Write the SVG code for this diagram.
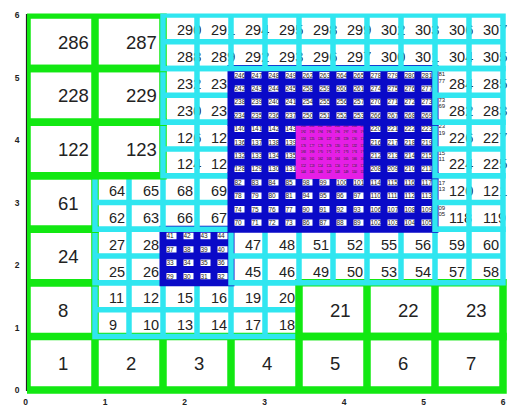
<svg xmlns="http://www.w3.org/2000/svg" width="515" height="408" viewBox="0 0 515 408">
<defs>
<clipPath id="plot"><rect x="27" y="13.5" width="480" height="381"/></clipPath>
</defs>
<style>
text{font-family:"Liberation Sans",Arial,sans-serif;fill:#222}
.L0{font-size:18.5px}
.L1{font-size:14.5px}
.L2{font-size:6.5px;fill:#000}
.L3{font-size:3px;fill:#000}
.ov{font-size:6px}
.tk{font-size:8.5px;font-weight:bold;text-anchor:middle}
.g,.c,.b,.m{fill:none;clip-path:url(#plot)}
.g{stroke:#12e812;stroke-width:7.5}
.c{stroke:#30e6f0;stroke-width:5.5}
.b{stroke:#0a0ac8;stroke-width:7}
.m{stroke:#e61ee6;stroke-width:6.5}
</style>
<rect width="515" height="408" fill="#fff"/>
<g id="axes">
<line x1="26.5" y1="14" x2="26.5" y2="391" stroke="#222" stroke-width="1.2"/>
<g class="tk">
<text x="17" y="18.4">6</text><text x="17" y="80.9">5</text><text x="17" y="143.4">4</text><text x="17" y="205.9">3</text><text x="17" y="268.4">2</text><text x="17" y="330.9">1</text><text x="17" y="393.4">0</text>
<text x="25.5" y="405">0</text><text x="105" y="405">1</text><text x="184.5" y="405">2</text><text x="264.5" y="405">3</text><text x="344" y="405">4</text><text x="423.5" y="405">5</text><text x="503" y="405">6</text>
</g>
</g>
<g id="cells-1-8">
<g class="L0"><text x="58" y="370.2">1</text><text x="126" y="370.2">2</text><text x="194" y="370.2">3</text><text x="262" y="370.2">4</text><text x="330" y="370.2">5</text><text x="398" y="370.2">6</text><text x="466" y="370.2">7</text><text x="58" y="316.6">8</text></g>
<path class="g" d="M27 336.43H503V390H27Z M95 336.43V390 M163 336.43V390 M231 336.43V390 M299 336.43V390 M367 336.43V390 M435 336.43V390 M27 282.86H95V336.43H27Z"/>
</g>
<g id="cells-9-20">
<g class="L1"><text x="109" y="330">9</text><text x="143" y="330">10</text><text x="109" y="303.3">11</text><text x="143" y="303.3">12</text><text x="177" y="330">13</text><text x="211" y="330">14</text><text x="177" y="303.3">15</text><text x="211" y="303.3">16</text><text x="245" y="330">17</text><text x="279" y="330">18</text><text x="245" y="303.3">19</text><text x="279" y="303.3">20</text></g>
<path class="c" d="M95 282.86H299V336.43H95Z M129 282.86V336.43 M163 282.86V336.43 M197 282.86V336.43 M231 282.86V336.43 M265 282.86V336.43 M95 309.64H299"/>
</g>
<g id="cells-21-24">
<g class="L0"><text x="330" y="316.6">21</text><text x="398" y="316.6">22</text><text x="466" y="316.6">23</text><text x="58" y="263.1">24</text></g>
<path class="g" d="M299 282.86H503V336.43H299Z M367 282.86V336.43 M435 282.86V336.43 M27 229.29H95V282.86H27Z"/>
</g>
<g id="cells-25-28">
<g class="L1"><text x="109" y="276.5">25</text><text x="143" y="276.5">26</text><text x="109" y="249.7">27</text><text x="143" y="249.7">28</text></g>
<path class="c" d="M95 229.29H163V282.86H95Z M129 229.29V282.86 M95 256.07H163"/>
</g>
<g id="cells-29-44">
<g class="L2">
<text y="278.5"><tspan x="166.5">29</tspan><tspan x="183.5">30</tspan><tspan x="200.5">31</tspan><tspan x="217.5">32</tspan></text>
<text y="265.1"><tspan x="166.5">33</tspan><tspan x="183.5">34</tspan><tspan x="200.5">35</tspan><tspan x="217.5">36</tspan></text>
<text y="251.7"><tspan x="166.5">37</tspan><tspan x="183.5">38</tspan><tspan x="200.5">39</tspan><tspan x="217.5">40</tspan></text>
<text y="238.3"><tspan x="166.5">41</tspan><tspan x="183.5">42</tspan><tspan x="200.5">43</tspan><tspan x="217.5">44</tspan></text>
</g>
<path class="b" d="M163 229.29H231V282.86H163Z M180 229.29V282.86 M197 229.29V282.86 M214 229.29V282.86 M163 242.68H231 M163 256.07H231 M163 269.46H231"/>
</g>
<g id="cells-45-60">
<g class="L1"><text x="245" y="276.5">45</text><text x="279" y="276.5">46</text><text x="245" y="249.7">47</text><text x="279" y="249.7">48</text><text x="313" y="276.5">49</text><text x="347" y="276.5">50</text><text x="313" y="249.7">51</text><text x="347" y="249.7">52</text><text x="381" y="276.5">53</text><text x="415" y="276.5">54</text><text x="381" y="249.7">55</text><text x="415" y="249.7">56</text><text x="449" y="276.5">57</text><text x="483" y="276.5">58</text><text x="449" y="249.7">59</text><text x="483" y="249.7">60</text></g>
<path class="c" d="M231 229.29H503V282.86H231Z M265 229.29V282.86 M299 229.29V282.86 M333 229.29V282.86 M367 229.29V282.86 M401 229.29V282.86 M435 229.29V282.86 M469 229.29V282.86 M231 256.07H503"/>
</g>
<g id="cell-61">
<text class="L0" x="58" y="209.5">61</text>
<path class="g" d="M27 175.71H95V229.29H27Z"/>
</g>
<g id="cells-62-69">
<g class="L1"><text x="109" y="222.9">62</text><text x="143" y="222.9">63</text><text x="109" y="196.1">64</text><text x="143" y="196.1">65</text><text x="177" y="222.9">66</text><text x="211" y="222.9">67</text><text x="177" y="196.1">68</text><text x="211" y="196.1">69</text></g>
<path class="c" d="M95 175.71H231V229.29H95Z M129 175.71V229.29 M163 175.71V229.29 M197 175.71V229.29 M95 202.5H231"/>
</g>
<g id="cells-70-117">
<g class="L2">
<text y="224.9"><tspan x="234.5">70</tspan><tspan x="251.5">71</tspan><tspan x="268.5">72</tspan><tspan x="285.5">73</tspan><tspan x="302.5">86</tspan><tspan x="319.5">87</tspan><tspan x="336.5">88</tspan><tspan x="353.5">89</tspan><tspan x="370.5">102</tspan><tspan x="387.5">103</tspan><tspan x="404.5">104</tspan><tspan x="421.5">105</tspan></text>
<text y="211.5"><tspan x="234.5">74</tspan><tspan x="251.5">75</tspan><tspan x="268.5">76</tspan><tspan x="285.5">77</tspan><tspan x="302.5">90</tspan><tspan x="319.5">91</tspan><tspan x="336.5">92</tspan><tspan x="353.5">93</tspan><tspan x="370.5">106</tspan><tspan x="387.5">107</tspan><tspan x="404.5">108</tspan><tspan x="421.5">109</tspan></text>
<text y="198.1"><tspan x="234.5">78</tspan><tspan x="251.5">79</tspan><tspan x="268.5">80</tspan><tspan x="285.5">81</tspan><tspan x="302.5">94</tspan><tspan x="319.5">95</tspan><tspan x="336.5">96</tspan><tspan x="353.5">97</tspan><tspan x="370.5">110</tspan><tspan x="387.5">111</tspan><tspan x="404.5">112</tspan><tspan x="421.5">113</tspan></text>
<text y="184.7"><tspan x="234.5">82</tspan><tspan x="251.5">83</tspan><tspan x="268.5">84</tspan><tspan x="285.5">85</tspan><tspan x="302.5">98</tspan><tspan x="319.5">99</tspan><tspan x="336.5">100</tspan><tspan x="353.5">101</tspan><tspan x="370.5">114</tspan><tspan x="387.5">115</tspan><tspan x="404.5">116</tspan><tspan x="421.5">117</tspan></text>
</g>
<g class="ov"><text x="438.5" y="184.5">17</text><text x="438.5" y="191">13</text><text x="438.5" y="209.5">09</text><text x="438.5" y="216">05</text></g>
<path class="b" d="M231 175.71H435V229.29H231Z M248 175.71V229.29 M265 175.71V229.29 M282 175.71V229.29 M299 175.71V229.29 M316 175.71V229.29 M333 175.71V229.29 M350 175.71V229.29 M367 175.71V229.29 M384 175.71V229.29 M401 175.71V229.29 M418 175.71V229.29 M231 189.11H435 M231 202.5H435 M231 215.89H435"/>
</g>
<g id="cells-118-121">
<g class="L1"><text x="449" y="222.9">118</text><text x="483" y="222.9">119</text><text x="449" y="196.1">120</text><text x="483" y="196.1">121</text></g>
<path class="c" d="M435 175.71H503V229.29H435Z M469 175.71V229.29 M435 202.5H503"/>
</g>
<g id="cells-122-123">
<g class="L0"><text x="58" y="155.9">122</text><text x="126" y="155.9">123</text></g>
<path class="g" d="M27 122.14H163V175.71H27Z M95 122.14V175.71"/>
</g>
<g id="cells-124-127">
<g class="L1"><text x="177" y="169.3">124</text><text x="211" y="169.3">125</text><text x="177" y="142.5">126</text><text x="211" y="142.5">127</text></g>
<path class="c" d="M163 122.14H231V175.71H163Z M197 122.14V175.71 M163 148.93H231"/>
</g>
<g id="cells-128-143">
<g class="L2">
<text y="171.3"><tspan x="234.5">128</tspan><tspan x="251.5">129</tspan><tspan x="268.5">130</tspan><tspan x="285.5">131</tspan></text>
<text y="157.9"><tspan x="234.5">132</tspan><tspan x="251.5">133</tspan><tspan x="268.5">134</tspan><tspan x="285.5">135</tspan></text>
<text y="144.5"><tspan x="234.5">136</tspan><tspan x="251.5">137</tspan><tspan x="268.5">138</tspan><tspan x="285.5">139</tspan></text>
<text y="131.1"><tspan x="234.5">140</tspan><tspan x="251.5">141</tspan><tspan x="268.5">142</tspan><tspan x="285.5">143</tspan></text>
</g>
<path class="b" d="M231 122.14H299V175.71H231Z M248 122.14V175.71 M265 122.14V175.71 M282 122.14V175.71 M231 135.54H299 M231 148.93H299 M231 162.32H299"/>
</g>
<g id="cells-144-207">
<path class="m" d="M299 122.14H367V175.71H299Z M307.5 122.14V175.71 M316 122.14V175.71 M324.5 122.14V175.71 M333 122.14V175.71 M341.5 122.14V175.71 M350 122.14V175.71 M358.5 122.14V175.71 M299 128.84H367 M299 135.54H367 M299 142.23H367 M299 148.93H367 M299 155.63H367 M299 162.32H367 M299 169.02H367"/>
<g class="L3">
<text y="173.4"><tspan x="301">144</tspan><tspan x="309.5">145</tspan><tspan x="318">146</tspan><tspan x="326.5">147</tspan><tspan x="335">148</tspan><tspan x="343.5">149</tspan><tspan x="352">150</tspan><tspan x="360.5">151</tspan></text>
<text y="166.7"><tspan x="301">152</tspan><tspan x="309.5">153</tspan><tspan x="318">154</tspan><tspan x="326.5">155</tspan><tspan x="335">156</tspan><tspan x="343.5">157</tspan><tspan x="352">158</tspan><tspan x="360.5">159</tspan></text>
<text y="160"><tspan x="301">160</tspan><tspan x="309.5">161</tspan><tspan x="318">162</tspan><tspan x="326.5">163</tspan><tspan x="335">164</tspan><tspan x="343.5">165</tspan><tspan x="352">166</tspan><tspan x="360.5">167</tspan></text>
<text y="153.3"><tspan x="301">168</tspan><tspan x="309.5">169</tspan><tspan x="318">170</tspan><tspan x="326.5">171</tspan><tspan x="335">172</tspan><tspan x="343.5">173</tspan><tspan x="352">174</tspan><tspan x="360.5">175</tspan></text>
<text y="146.6"><tspan x="301">176</tspan><tspan x="309.5">177</tspan><tspan x="318">178</tspan><tspan x="326.5">179</tspan><tspan x="335">180</tspan><tspan x="343.5">181</tspan><tspan x="352">182</tspan><tspan x="360.5">183</tspan></text>
<text y="139.9"><tspan x="301">184</tspan><tspan x="309.5">185</tspan><tspan x="318">186</tspan><tspan x="326.5">187</tspan><tspan x="335">188</tspan><tspan x="343.5">189</tspan><tspan x="352">190</tspan><tspan x="360.5">191</tspan></text>
<text y="133.2"><tspan x="301">192</tspan><tspan x="309.5">193</tspan><tspan x="318">194</tspan><tspan x="326.5">195</tspan><tspan x="335">196</tspan><tspan x="343.5">197</tspan><tspan x="352">198</tspan><tspan x="360.5">199</tspan></text>
<text y="126.5"><tspan x="301">200</tspan><tspan x="309.5">201</tspan><tspan x="318">202</tspan><tspan x="326.5">203</tspan><tspan x="335">204</tspan><tspan x="343.5">205</tspan><tspan x="352">206</tspan><tspan x="360.5">207</tspan></text>
</g>
</g>
<g id="cells-208-223">
<g class="L2">
<text y="171.3"><tspan x="370.5">208</tspan><tspan x="387.5">209</tspan><tspan x="404.5">210</tspan><tspan x="421.5">211</tspan></text>
<text y="157.9"><tspan x="370.5">212</tspan><tspan x="387.5">213</tspan><tspan x="404.5">214</tspan><tspan x="421.5">215</tspan></text>
<text y="144.5"><tspan x="370.5">216</tspan><tspan x="387.5">217</tspan><tspan x="404.5">218</tspan><tspan x="421.5">219</tspan></text>
<text y="131.1"><tspan x="370.5">220</tspan><tspan x="387.5">221</tspan><tspan x="404.5">222</tspan><tspan x="421.5">223</tspan></text>
</g>
<g class="ov"><text x="438.5" y="128">23</text><text x="438.5" y="134.5">19</text><text x="438.5" y="154.5">15</text><text x="438.5" y="161">11</text></g>
<path class="b" d="M367 122.14H435V175.71H367Z M384 122.14V175.71 M401 122.14V175.71 M418 122.14V175.71 M367 135.54H435 M367 148.93H435 M367 162.32H435"/>
</g>
<g id="cells-224-227">
<g class="L1"><text x="449" y="169.3">224</text><text x="483" y="169.3">225</text><text x="449" y="142.5">226</text><text x="483" y="142.5">227</text></g>
<path class="c" d="M435 122.14H503V175.71H435Z M469 122.14V175.71 M435 148.93H503"/>
</g>
<g id="cells-228-229">
<g class="L0"><text x="58" y="102.4">228</text><text x="126" y="102.4">229</text></g>
<path class="g" d="M27 68.57H163V122.14H27Z M95 68.57V122.14"/>
</g>
<g id="cells-230-233">
<g class="L1"><text x="177" y="115.8">230</text><text x="211" y="115.8">231</text><text x="177" y="89">232</text><text x="211" y="89">233</text></g>
<path class="c" d="M163 68.57H231V122.14H163Z M197 68.57V122.14 M163 95.36H231"/>
</g>
<g id="cells-234-281">
<g class="L2">
<text y="117.8"><tspan x="234.5">234</tspan><tspan x="251.5">235</tspan><tspan x="268.5">236</tspan><tspan x="285.5">237</tspan><tspan x="302.5">250</tspan><tspan x="319.5">251</tspan><tspan x="336.5">252</tspan><tspan x="353.5">253</tspan><tspan x="370.5">266</tspan><tspan x="387.5">267</tspan><tspan x="404.5">268</tspan><tspan x="421.5">269</tspan></text>
<text y="104.4"><tspan x="234.5">238</tspan><tspan x="251.5">239</tspan><tspan x="268.5">240</tspan><tspan x="285.5">241</tspan><tspan x="302.5">254</tspan><tspan x="319.5">255</tspan><tspan x="336.5">256</tspan><tspan x="353.5">257</tspan><tspan x="370.5">270</tspan><tspan x="387.5">271</tspan><tspan x="404.5">272</tspan><tspan x="421.5">273</tspan></text>
<text y="91"><tspan x="234.5">242</tspan><tspan x="251.5">243</tspan><tspan x="268.5">244</tspan><tspan x="285.5">245</tspan><tspan x="302.5">258</tspan><tspan x="319.5">259</tspan><tspan x="336.5">260</tspan><tspan x="353.5">261</tspan><tspan x="370.5">274</tspan><tspan x="387.5">275</tspan><tspan x="404.5">276</tspan><tspan x="421.5">277</tspan></text>
<text y="77.6"><tspan x="234.5">246</tspan><tspan x="251.5">247</tspan><tspan x="268.5">248</tspan><tspan x="285.5">249</tspan><tspan x="302.5">262</tspan><tspan x="319.5">263</tspan><tspan x="336.5">264</tspan><tspan x="353.5">265</tspan><tspan x="370.5">278</tspan><tspan x="387.5">279</tspan><tspan x="404.5">280</tspan><tspan x="421.5">281</tspan></text>
</g>
<g class="ov"><text x="438.5" y="76">81</text><text x="438.5" y="82.5">77</text><text x="438.5" y="101.5">73</text><text x="438.5" y="108">69</text></g>
<path class="b" d="M231 68.57H435V122.14H231Z M248 68.57V122.14 M265 68.57V122.14 M282 68.57V122.14 M299 68.57V122.14 M316 68.57V122.14 M333 68.57V122.14 M350 68.57V122.14 M367 68.57V122.14 M384 68.57V122.14 M401 68.57V122.14 M418 68.57V122.14 M231 81.96H435 M231 95.36H435 M231 108.75H435"/>
</g>
<g id="cells-282-285">
<g class="L1"><text x="449" y="115.8">282</text><text x="483" y="115.8">283</text><text x="449" y="89">284</text><text x="483" y="89">285</text></g>
<path class="c" d="M435 68.57H503V122.14H435Z M469 68.57V122.14 M435 95.36H503"/>
</g>
<g id="cells-286-287">
<g class="L0"><text x="58" y="48.8">286</text><text x="126" y="48.8">287</text></g>
<path class="g" d="M27 15H163V68.57H27Z M95 15V68.57"/>
</g>
<g id="cells-288-307">
<g class="L1"><text x="177" y="62.2">288</text><text x="211" y="62.2">289</text><text x="177" y="35.4">290</text><text x="211" y="35.4">291</text><text x="245" y="62.2">292</text><text x="279" y="62.2">293</text><text x="245" y="35.4">294</text><text x="279" y="35.4">295</text><text x="313" y="62.2">296</text><text x="347" y="62.2">297</text><text x="313" y="35.4">298</text><text x="347" y="35.4">299</text><text x="381" y="62.2">300</text><text x="415" y="62.2">301</text><text x="381" y="35.4">302</text><text x="415" y="35.4">303</text><text x="449" y="62.2">304</text><text x="483" y="62.2">305</text><text x="449" y="35.4">306</text><text x="483" y="35.4">307</text></g>
<path class="c" d="M163 15H503V68.57H163Z M197 15V68.57 M231 15V68.57 M265 15V68.57 M299 15V68.57 M333 15V68.57 M367 15V68.57 M401 15V68.57 M435 15V68.57 M469 15V68.57 M163 41.79H503"/>
</g>
</svg>
